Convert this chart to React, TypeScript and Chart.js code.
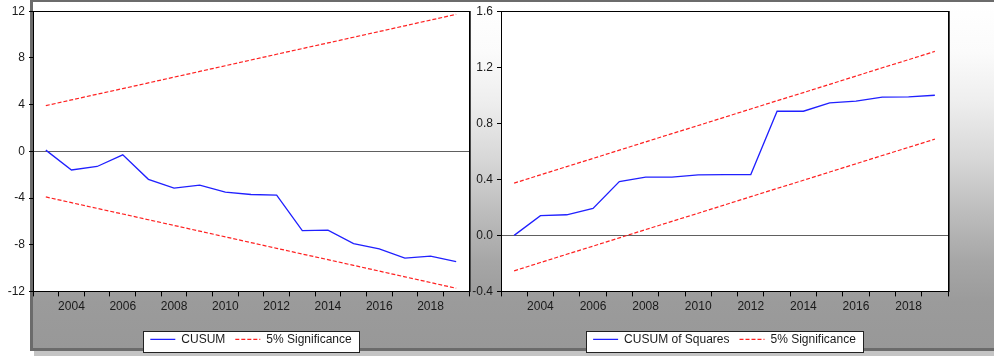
import React, { useEffect, useRef } from 'react';
import { Chart, registerables } from 'chart.js';
Chart.register(...registerables);

const years = ['2003', '2004', '2005', '2006', '2007', '2008', '2009', '2010', '2011', '2012', '2013', '2014', '2015', '2016', '2017', '2018', '2019'];

const cusum = [0.1, -1.6, -1.3, -0.3, -2.4, -3.15, -2.9, -3.5, -3.7, -3.75, -6.8, -6.75, -7.9, -8.35, -9.15, -8.98, -9.45];
const cusumUpper = [3.91, 4.40, 4.89, 5.37, 5.86, 6.35, 6.84, 7.33, 7.82, 8.31, 8.80, 9.28, 9.77, 10.26, 10.75, 11.24, 11.73];
const cusumLower = [-3.91, -4.40, -4.89, -5.37, -5.86, -6.35, -6.84, -7.33, -7.82, -8.31, -8.80, -9.28, -9.77, -10.26, -10.75, -11.24, -11.73];
const cusumTicks = [-12, -8, -4, 0, 4, 8, 12];

const cusumSq = [0.0, 0.141, 0.147, 0.192, 0.384, 0.415, 0.416, 0.432, 0.434, 0.434, 0.886, 0.886, 0.946, 0.958, 0.987, 0.988, 1.0];
const sqUpper = [0.373, 0.432, 0.491, 0.549, 0.608, 0.667, 0.726, 0.784, 0.843, 0.902, 0.961, 1.019, 1.078, 1.137, 1.196, 1.254, 1.313];
const sqLower = [-0.253, -0.194, -0.135, -0.077, -0.018, 0.041, 0.100, 0.158, 0.217, 0.276, 0.335, 0.393, 0.452, 0.511, 0.570, 0.628, 0.687];
const sqTicks = [-0.4, 0.0, 0.4, 0.8, 1.2, 1.6];

const FONT = '"Liberation Sans", Arial, sans-serif';
const TEXT = '#1a1a1a';

function legendBox(chart: any) {
  const hb = chart.legend && chart.legend.legendHitBoxes;
  if (!hb || !hb.length) return null;
  let minL = Infinity, maxR = -Infinity, top = Infinity;
  hb.forEach((b: any) => {
    minL = Math.min(minL, b.left);
    maxR = Math.max(maxR, b.left + b.width);
    top = Math.min(top, b.top);
  });
  const x = Math.round(minL) - 7;
  const y = Math.round(top) - 2;
  return { x, y, w: Math.round(maxR) + 7 - x, h: 21 };
}

const framePlugin = {
  id: 'frame',
  beforeDraw(chart: any) {
    const { ctx, chartArea: a } = chart;
    ctx.save();
    ctx.fillStyle = '#ffffff';
    ctx.fillRect(a.left, a.top, a.right - a.left, a.bottom - a.top);
    const lb = legendBox(chart);
    if (lb) ctx.fillRect(lb.x, lb.y, lb.w, lb.h);
    ctx.restore();
  },
  afterDraw(chart: any) {
    const { ctx, chartArea: a } = chart;
    ctx.save();
    ctx.strokeStyle = '#000000';
    ctx.lineWidth = 1;
    ctx.strokeRect(Math.round(a.left) + 0.5, Math.round(a.top) + 0.5, Math.round(a.right - a.left), Math.round(a.bottom - a.top));
    ctx.strokeStyle = '#4a4a4a';
    ctx.beginPath();
    ctx.moveTo(Math.round(a.right) + 1.5, Math.round(a.top));
    ctx.lineTo(Math.round(a.right) + 1.5, Math.round(a.bottom) + 1);
    ctx.stroke();
    const lb = legendBox(chart);
    if (lb) {
      ctx.strokeStyle = '#222222';
      ctx.strokeRect(lb.x + 0.5, lb.y + 0.5, lb.w, lb.h);
    }
    ctx.restore();
  },
};

function makeConfig(opts: {
  main: number[];
  upper: number[];
  lower: number[];
  mainLabel: string;
  ticks: number[];
  fmt: (v: number) => string;
  yWidth: number;
  padRight: number;
}): any {
  return {
    type: 'line',
    data: {
      labels: years,
      datasets: [
        { label: opts.mainLabel, data: opts.main, borderColor: '#2020ff', borderWidth: 1.3, pointRadius: 0, tension: 0, fill: false },
        { label: '5% Significance', data: opts.upper, borderColor: '#ff2020', borderWidth: 1.2, borderDash: [4, 2], pointRadius: 0, tension: 0, fill: false },
        { label: '5% Significance', data: opts.lower, borderColor: '#ff2020', borderWidth: 1.2, borderDash: [4, 2], pointRadius: 0, tension: 0, fill: false },
      ],
    },
    options: {
      responsive: false,
      animation: false,
      events: [],
      devicePixelRatio: 1,
      layout: { padding: { top: 11, left: 0, right: opts.padRight, bottom: 5.6 } },
      plugins: {
        tooltip: { enabled: false },
        legend: {
          display: true,
          position: 'bottom',
          fullSize: false,
          labels: {
            usePointStyle: true,
            pointStyle: 'line',
            pointStyleWidth: 25,
            boxHeight: 2,
            padding: 10,
            color: TEXT,
            font: { family: FONT, size: 12 },
            filter: (item: any) => item.datasetIndex !== 2,
            generateLabels: (chart: any) => {
              const base = (Chart.defaults as any).plugins.legend.labels.generateLabels(chart);
              return base.map((it: any) => {
                const ds = chart.data.datasets[it.datasetIndex];
                return { ...it, lineDash: ds.borderDash || [], lineWidth: ds.borderWidth, strokeStyle: ds.borderColor };
              });
            },
          },
        },
      },
      scales: {
        x: {
          type: 'category',
          offset: true,
          grid: { display: true, drawOnChartArea: false, offset: true, tickLength: 5, tickColor: '#000000', lineWidth: 1 },
          border: { display: false },
          ticks: {
            autoSkip: false,
            maxRotation: 0,
            minRotation: 0,
            padding: 3,
            color: TEXT,
            font: { family: FONT, size: 12 },
            callback: (_v: any, idx: number) => (Number(years[idx]) % 2 === 0 ? years[idx] : ''),
          },
          afterFit: (s: any) => { s.height = 32; },
        },
        y: {
          min: opts.ticks[0],
          max: opts.ticks[opts.ticks.length - 1],
          afterBuildTicks: (s: any) => { s.ticks = opts.ticks.map((v) => ({ value: v })); },
          grid: {
            color: (c: any) => (c.tick && Math.abs(c.tick.value) < 1e-9 ? '#606060' : 'rgba(0,0,0,0)'),
            tickColor: '#000000',
            tickLength: 4,
            lineWidth: 1,
          },
          border: { display: false },
          ticks: {
            padding: 4,
            color: TEXT,
            font: { family: FONT, size: 12 },
            callback: (v: any) => opts.fmt(Number(v)),
          },
          afterFit: (s: any) => { s.width = opts.yWidth; },
        },
      },
    },
    plugins: [framePlugin],
  };
}

function ChartCanvas({ config, left, width, height }: { config: any; left: number; width: number; height: number }) {
  const ref = useRef<HTMLCanvasElement | null>(null);
  useEffect(() => {
    if (!ref.current) return;
    const chart = new Chart(ref.current, config);
    return () => chart.destroy();
  }, [config]);
  return (
    <canvas
      ref={ref}
      width={width}
      height={height}
      style={{ position: 'absolute', left, top: 0, width, height, display: 'block' }}
    />
  );
}

const leftConfig = makeConfig({
  main: cusum,
  upper: cusumUpper,
  lower: cusumLower,
  mainLabel: 'CUSUM',
  ticks: cusumTicks,
  fmt: (v) => String(Math.round(v)),
  yWidth: 33,
  padRight: 21,
});

const rightConfig = makeConfig({
  main: cusumSq,
  upper: sqUpper,
  lower: sqLower,
  mainLabel: 'CUSUM of Squares',
  ticks: sqTicks,
  fmt: (v) => v.toFixed(1),
  yWidth: 41,
  padRight: 46,
});

export default function App() {
  Chart.defaults.font.family = FONT;
  return (
    <div style={{ position: 'fixed', left: 0, top: 0, width: 994, height: 361, background: '#ffffff', overflow: 'hidden' }}>
      <div
        style={{
          position: 'absolute',
          left: 30,
          top: 0,
          width: 970,
          height: 346,
          borderLeft: '3px solid #6b6b6b',
          borderTop: '2px solid #6b6b6b',
          borderBottom: '3px solid #6b6b6b',
          background:
            'linear-gradient(to bottom, #ffffff 0px, #fbfbfb 50px, #eeeeee 100px, #d6d6d6 160px, #bdbdbd 210px, #a6a6a6 260px, #9b9b9b 300px, #989898 346px)',
        }}
      />
      <div style={{ position: 'absolute', left: 34, top: 351, width: 960, height: 5, background: '#c4c4c4' }} />
      <ChartCanvas config={leftConfig} left={0} width={490} height={361} />
      <ChartCanvas config={rightConfig} left={460} width={534} height={361} />
    </div>
  );
}
